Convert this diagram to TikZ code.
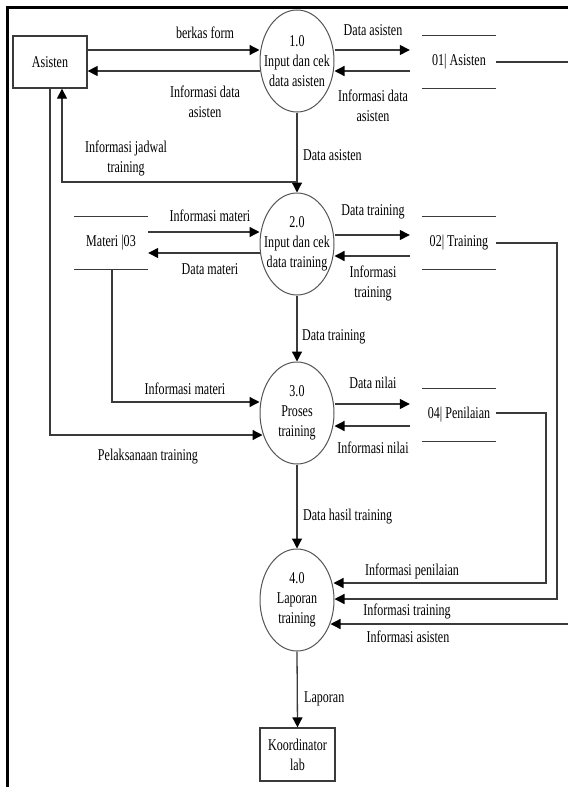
\documentclass[tikz,border=0pt]{standalone}
\usepackage{fontspec}
\setmainfont[FakeStretch=0.73]{Liberation Serif}
\usetikzlibrary{arrows.meta,shapes.geometric}
\definecolor{ln}{HTML}{3A3A3A}
\definecolor{cl}{HTML}{555555}
\begin{document}
\begin{tikzpicture}[x=1pt,y=-1pt,font=\fontsize{16.5}{20}\selectfont,
  conn/.style={draw=ln,line width=1.3pt},
  arr/.style={conn,-{Triangle[length=10pt,width=10pt,color=black]}},
  ent/.style={draw=ln,line width=1.3pt,minimum width=74pt,minimum height=52pt,inner sep=0pt,align=center},
  proc/.style={ellipse,draw=cl,line width=1pt,minimum width=74pt,minimum height=102pt,inner sep=0pt},
  ptext/.style={align=center,inner sep=0pt},
  store/.style={minimum width=74pt,minimum height=52pt,inner sep=0pt},
  lab/.style={align=center,inner sep=0pt}]
\useasboundingbox (0,0) rectangle (568,787);
\fill[white] (0,0) rectangle (568,787);
% frame
\draw[black,line width=3pt] (7,787) -- (7,7) -- (568,7);

% entities
\node[ent] (asisten) at (50,62) {Asisten};
\node[ent,minimum width=75pt,minimum height=53pt] (koord) at (297.5,754.5) {Koordinator\\lab};

% processes
\node[proc] (P1) at (297,61) {};
\node[ptext] (P1t) at (P1) {1.0\\Input dan cek\\data asisten};
\node[proc] (P2) at (297,244) {};
\node[ptext] (P2t) at (P2) {2.0\\Input dan cek\\data training};
\node[proc] (P3) at (297,413) {};
\node[ptext] (P3t) at (P3) {3.0\\Proses\\training};
\node[proc] (P4) at (297,600) {};
\node[ptext] (P4t) at (P4) {4.0\\Laporan\\training};

% data stores
\node[store] (D1) at (459,62) {01| Asisten};
\node[store] (D2) at (459,243) {02| Training};
\node[store] (D3) at (111,243) {Materi |03};
\node[store] (D4) at (459,415) {04| Penilaian};
\foreach \d in {D1,D2,D3,D4}
  \draw[conn] (\d.north west) -- (\d.north east) (\d.south west) -- (\d.south east);

% Asisten <-> P1
\draw[arr] (asisten.east |- 0,50) -- (P1.west |- 0,50);
\draw[arr] (P1.west |- 0,71) -- (asisten.east |- 0,71);
\node[lab] (l1) at (205,33) {berkas form};
\node[lab] (l2) at (205,102) {Informasi data\\asisten};

% P1 <-> D1
\draw[arr] (P1.east |- 0,50) -- ([xshift=-12pt]D1.west |- 0,50);
\draw[arr] ([xshift=-12pt]D1.west |- 0,71) -- (P1.east |- 0,71);
\node[lab] (l3) at (373,30) {Data asisten};
\node[lab] (l4) at (373,106) {Informasi data\\asisten};
\coordinate (rt1) at (568,62);
\draw[conn] (D1.east) -- (rt1);

% P1 -> P2, jadwal to Asisten
\draw[arr] (P1.south) -- (P2.north);
\node[lab,anchor=west] (l5) at (303,155) {Data asisten};
\draw[arr] (P1.south |- 0,182) -| ([xshift=12pt]asisten.south);
\node[lab] (l6) at (126,158) {Informasi jadwal\\training};

% D3 <-> P2
\draw[arr] (D3.east |- 0,232) -- (P2.west |- 0,232);
\draw[arr] (P2.west |- 0,253) -- (D3.east |- 0,253);
\node[lab] (l7) at (210,216) {Informasi materi};
\node[lab] (l8) at (210,269) {Data materi};

% P2 <-> D2
\draw[arr] (P2.east |- 0,235) -- ([xshift=-12pt]D2.west |- 0,235);
\draw[arr] ([xshift=-12pt]D2.west |- 0,256) -- (P2.east |- 0,256);
\node[lab] (l9) at (373,212) {Data training};
\node[lab] (l10) at (373,283) {Informasi\\training};

% P2 -> P3
\draw[arr] (P2.south) -- (P3.north);
\node[lab,anchor=west] (l11) at (302,337) {Data training};

% D3 -> P3
\draw[arr] ([xshift=1pt]D3.south) |- (P3.west |- 0,402);
\node[lab] (l12) at (185,389) {Informasi materi};

% Asisten -> P3
\draw[arr] (asisten.south) |- ([xshift=3pt]P3.west |- 0,435);
\node[lab] (l13) at (148,457) {Pelaksanaan training};

% P3 <-> D4
\draw[arr] (P3.east |- 0,404) -- ([xshift=-12pt]D4.west |- 0,404);
\draw[arr] ([xshift=-12pt]D4.west |- 0,426) -- (P3.east |- 0,426);
\node[lab] (l14) at (373,383) {Data nilai};
\node[lab] (l15) at (373,448) {Informasi nilai};

% P3 -> P4
\draw[arr] (P3.south) -- (P4.north);
\node[lab,anchor=west] (l16) at (303,517) {Data hasil training};

% D4 -> P4
\coordinate (c4) at (546,413);
\draw[arr] (D4.east |- c4) -- (c4) |- ([xshift=-1pt]P4.east |- 0,583);
\node[lab] (l17) at (412,571) {Informasi penilaian};

% D2 -> P4
\coordinate (c2) at (557,243);
\draw[arr] (D2.east) -- (c2) |- (P4.east |- 0,599);
\node[lab] (l18) at (407,611) {Informasi training};

% right edge -> P4
\coordinate (rt2) at (568,624);
\draw[arr] (rt2) -- ([xshift=-4pt]P4.east |- rt2);
\node[lab] (l19) at (408,637) {Informasi asisten};

% P4 -> Koordinator
\draw[arr] (P4.south) -- (koord.north);
\node[lab,anchor=west] (l20) at (304,699) {Laporan};
\end{tikzpicture}
\end{document}
